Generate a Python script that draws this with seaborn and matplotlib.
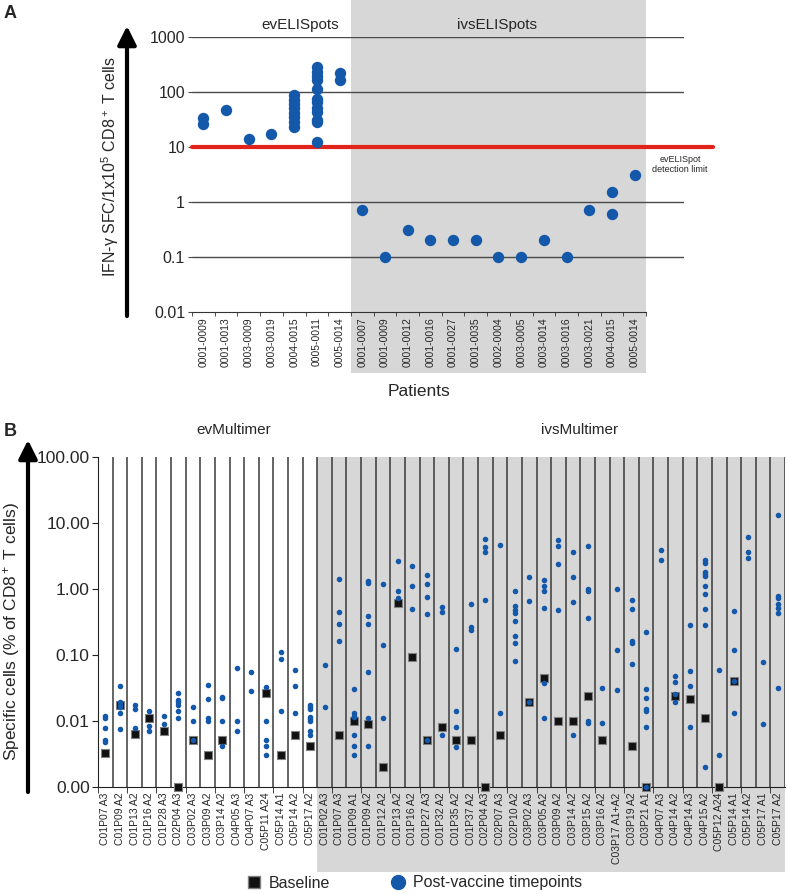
import numpy as np
import pandas as pd
import seaborn as sns
import matplotlib.pyplot as plt
from matplotlib.patches import Rectangle
from matplotlib.lines import Line2D
from matplotlib.ticker import NullLocator

sns.set_style('white')
plt.rcParams['font.family'] = ['Liberation Sans', 'DejaVu Sans']
plt.rcParams['mathtext.fontset'] = 'custom'
plt.rcParams['mathtext.rm'] = 'Liberation Sans'
plt.rcParams['mathtext.it'] = 'Liberation Sans:italic'

# ---------------- data: panel A (ELISpot) ----------------
ev_patients = ['0001-0009', '0001-0013', '0003-0009', '0003-0019', '0004-0015', '0005-0011', '0005-0014']
ev_values = [[26, 33], [46], [14], [17],
             [23, 28, 34, 41, 50, 60, 72, 87],
             [12, 28, 31, 42, 50, 65, 75, 110, 165, 190, 230, 280],
             [165, 215]]
ivs_patients = ['0001-0007', '0001-0009', '0001-0012', '0001-0016', '0001-0027', '0001-0035', '0002-0004',
                '0003-0005', '0003-0014', '0003-0016', '0003-0021', '0004-0015', '0005-0014']
ivs_values = [[0.7], [0.1], [0.3], [0.2], [0.2], [0.2], [0.1], [0.1], [0.2], [0.1], [0.7], [0.6, 1.5], [3.0]]

# ---------------- data: panel B (multimer) ----------------
ev_multi = ['C01P07 A3', 'C01P09 A2', 'C01P13 A2', 'C01P16 A2', 'C01P28 A3', 'C02P04 A3', 'C03P02 A3',
            'C03P09 A2', 'C03P14 A2', 'C04P05 A3', 'C04P07 A3', 'C05P11 A24', 'C05P14 A1', 'C05P14 A2', 'C05P17 A2']
ev_post = [[0.012, 0.011, 0.0078, 0.0051, 0.0047],
           [0.034, 0.019, 0.0175, 0.016, 0.013, 0.0074],
           [0.0173, 0.0152, 0.0078],
           [0.0141, 0.0082, 0.0070],
           [0.012, 0.0091],
           [0.0265, 0.0208, 0.019, 0.0173, 0.0141, 0.0112],
           [0.016, 0.0101, 0.0051],
           [0.035, 0.0213, 0.0112, 0.0100],
           [0.0233, 0.022, 0.010, 0.0041],
           [0.064, 0.010, 0.0070],
           [0.056, 0.0285],
           [0.0324, 0.010, 0.0051, 0.0041, 0.0030],
           [0.111, 0.086, 0.0141],
           [0.0586, 0.034, 0.0130],
           [0.0175, 0.016, 0.015, 0.0116, 0.0108, 0.0100, 0.0070, 0.0061]]
ev_base = [0.0033, 0.0175, 0.0064, 0.0112, 0.0070, 0.001, 0.0051, 0.0030, 0.0051, None, None,
           0.026, 0.0030, 0.0061, 0.0041]

ivs_multi = ['C01P02 A3', 'C01P07 A3', 'C01P09 A1', 'C01P09 A2', 'C01P12 A2', 'C01P13 A2', 'C01P16 A2',
             'C01P27 A3', 'C01P32 A2', 'C01P35 A2', 'C01P37 A2', 'C02P04 A3', 'C02P07 A3', 'C02P10 A2',
             'C03P02 A3', 'C03P05 A2', 'C03P09 A2', 'C03P14 A2', 'C03P15 A2', 'C03P16 A2', 'C03P17 A1+A2',
             'C03P19 A2', 'C03P21 A1', 'C04P07 A3', 'C04P14 A2', 'C04P14 A3', 'C04P15 A2', 'C05P12 A24',
             'C05P14 A1', 'C05P14 A2', 'C05P17 A1', 'C05P17 A2']
ivs_post = [[0.0708, 0.016],
            [1.43, 0.445, 0.296, 0.161],
            [0.030, 0.013, 0.012, 0.0113, 0.0061, 0.0041, 0.0030],
            [1.34, 1.22, 0.39, 0.30, 0.0546, 0.0112, 0.0041],
            [1.21, 0.142, 0.0112],
            [2.64, 0.94, 0.74],
            [2.24, 1.12, 0.506],
            [1.62, 1.21, 0.77, 0.42, 0.0051],
            [0.54, 0.455, 0.0061],
            [0.122, 0.0141, 0.0081, 0.0040],
            [0.60, 0.263, 0.24],
            [5.77, 4.36, 3.66, 0.69],
            [4.68, 0.013],
            [0.94, 0.554, 0.488, 0.44, 0.324, 0.192, 0.152, 0.082],
            [1.53, 0.67, 0.0193],
            [1.36, 1.13, 0.94, 0.517, 0.037, 0.0112],
            [5.5, 4.46, 2.43, 0.478],
            [3.66, 1.53, 0.64, 0.0061],
            [4.57, 0.99, 0.92, 0.365, 0.010, 0.0094],
            [0.0316, 0.0094],
            [1.0, 0.12, 0.0295],
            [0.69, 0.49, 0.165, 0.154, 0.074],
            [0.22, 0.030, 0.0223, 0.0153, 0.0142, 0.0081, 0.001],
            [3.97, 2.74],
            [0.0486, 0.0394, 0.0253, 0.0193],
            [0.283, 0.0573, 0.034, 0.0081],
            [2.74, 2.52, 1.84, 1.70, 1.58, 1.12, 0.85, 0.50, 0.283, 0.0020],
            [0.06, 0.003],
            [0.46, 0.12, 0.0403, 0.0132],
            [6.18, 3.66, 2.93],
            [0.079, 0.0091],
            [13.3, 0.79, 0.74, 0.59, 0.51, 0.44, 0.031]]
ivs_base = [None, 0.0061, 0.0100, 0.0091, 0.0020, 0.61, 0.094, 0.0051, 0.0081, 0.0051, 0.0051, 0.001,
            0.0061, None, 0.0193, 0.0448, 0.0100, 0.0100, 0.0242, 0.0051, None, 0.0041, 0.001, None,
            0.0242, 0.0213, 0.0112, 0.001, 0.0403, None, None, None]

# ---------------- layout helpers (pixels of the 787x894 picture) ----------------
W, H = 787, 894
def fx(px):
    return px / W
def fy(py):
    return 1 - py / H

blue = '#1458aa'
grey_bg = '#d7d7d7'
arrow_kw = dict(arrowstyle='-|>,head_length=0.7,head_width=0.35', lw=3, color='black',
                shrinkA=0, shrinkB=0, mutation_scale=16)

fig = plt.figure(figsize=(W / 100, H / 100), dpi=100)

# ================= panel A =================
a_left, a_right, a_grid_right, a_top, a_bot = 192, 646, 684, 36.7, 311.7
axA = fig.add_axes([fx(a_left), fy(a_bot), (a_grid_right - a_left) / W, (a_bot - a_top) / H])
axA.set_yscale('log')

elis_keys = ['ev ' + p for p in ev_patients] + ['ivs ' + p for p in ivs_patients]
elis_labels = ev_patients + ivs_patients
rows = []
for key, vals in zip(elis_keys, ev_values + ivs_values):
    for v in vals:
        rows.append((key, v))
elis_df = pd.DataFrame(rows, columns=['patient', 'sfc'])

sns.stripplot(data=elis_df, x='patient', y='sfc', order=elis_keys, jitter=False, size=8.2,
              color=blue, linewidth=0, ax=axA, zorder=4)

n_a = len(elis_keys)
n_ev_a = len(ev_patients)
cw = (a_right - a_left) / n_a
axA.set_xlim(-0.5, -0.5 + (a_grid_right - a_left) / cw)
axA.set_ylim(0.01, 1000)

for v in [0.1, 1, 100, 1000]:
    axA.axhline(v, color='#4a4a4a', lw=1, zorder=1)
axA.plot([-0.5, -0.5 + (713 - a_left) / cw], [10, 10], color='#e2231a', lw=3, clip_on=False, zorder=3)
axA.text(-0.5 + (680 - a_left) / cw, 4.8, 'evELISpot\ndetection limit', ha='center', va='center',
         fontsize=6.5, linespacing=1.1)

# grey ivs block, running down behind the tick labels
axA.add_patch(Rectangle((n_ev_a - 0.5, (a_bot - 373) / (a_bot - a_top)), n_a - n_ev_a,
                        (373 - 0) / (a_bot - a_top), transform=axA.get_xaxis_transform(),
                        facecolor=grey_bg, edgecolor='none', clip_on=False, zorder=0))

for s in ['top', 'right', 'left']:
    axA.spines[s].set_visible(False)
axA.spines['bottom'].set_bounds(-0.5, n_a - 0.5)
axA.spines['bottom'].set_color('#333333')
axA.set_xticks(range(n_a))
axA.set_xticklabels(elis_labels, rotation=90, fontsize=7.5)
axA.set_xticks(np.arange(-0.5, n_a, 1), minor=True)
axA.tick_params(axis='x', which='major', length=0, pad=4)
axA.tick_params(axis='x', which='minor', length=3, direction='out', color='#333333', bottom=True)
axA.set_yticks([0.01, 0.1, 1, 10, 100, 1000])
axA.set_yticklabels(['0.01', '0.1', '1', '10', '100', '1000'], fontsize=11.5)
axA.yaxis.set_minor_locator(NullLocator())
axA.tick_params(axis='y', which='major', length=3, color='#4a4a4a', left=True, pad=2)
axA.set_xlabel('')
axA.set_ylabel('')

fig.text(fx(300), fy(25), 'evELISpots', ha='center', va='center', fontsize=11)
fig.text(fx(497), fy(25), 'ivsELISpots', ha='center', va='center', fontsize=11)
axA.annotate('', xy=(fx(127), fy(26)), xytext=(fx(127), fy(316)), xycoords='figure fraction',
             textcoords='figure fraction', arrowprops=arrow_kw)
fig.text(fx(110), fy(167), 'IFN-γ SFC/1x10$^5$ CD8$^+$ T cells', rotation=90, ha='center', va='center',
         fontsize=11.5)
fig.text(fx(419), fy(392), 'Patients', ha='center', va='center', fontsize=12.5)
fig.text(fx(10), fy(13), 'A', ha='center', va='center', fontsize=13, fontweight='bold')

# ================= panel B =================
b_left, b_right, b_top, b_bot = 98, 785, 457.3, 786.7
axB = fig.add_axes([fx(b_left), fy(b_bot), (b_right - b_left) / W, (b_bot - b_top) / H])
axB.set_yscale('log')

multi_keys = ['ev ' + m for m in ev_multi] + ['ivs ' + m for m in ivs_multi]
multi_labels = ev_multi + ivs_multi
post_rows, base_rows = [], []
for key, vals, b in zip(multi_keys, ev_post + ivs_post, ev_base + ivs_base):
    for v in vals:
        post_rows.append((key, v))
    if b is not None:
        base_rows.append((key, b))
post_df = pd.DataFrame(post_rows, columns=['assay', 'pct'])
base_df = pd.DataFrame(base_rows, columns=['assay', 'pct'])

sns.stripplot(data=base_df, x='assay', y='pct', order=multi_keys, jitter=False, marker='s', size=5.5,
              color='#111111', edgecolor='#808080', linewidth=0.8, ax=axB, zorder=4, clip_on=False)
sns.stripplot(data=post_df, x='assay', y='pct', order=multi_keys, jitter=False, size=4,
              color=blue, linewidth=0, ax=axB, zorder=5, clip_on=False)

n_b = len(multi_keys)
n_ev_b = len(ev_multi)
axB.set_xlim(-0.5, n_b - 0.5)
axB.set_ylim(0.001, 100)
for bnd in np.arange(0.5, n_b, 1):
    axB.axvline(bnd, color='#3a3a3a', lw=1.1, zorder=1)
axB.add_patch(Rectangle((n_ev_b - 0.5, (b_bot - 872) / (b_bot - b_top)), n_b - n_ev_b,
                        (872 - b_top) / (b_bot - b_top), transform=axB.get_xaxis_transform(),
                        facecolor=grey_bg, edgecolor='none', clip_on=False, zorder=0))

for s in ['top', 'right']:
    axB.spines[s].set_visible(False)
for s in ['left', 'bottom']:
    axB.spines[s].set_color('#222222')
axB.set_xticks(range(n_b))
axB.set_xticklabels(multi_labels, rotation=90, fontsize=7.5)
axB.set_xticks(np.arange(-0.5, n_b, 2), minor=True)
axB.tick_params(axis='x', which='major', length=0, pad=4)
axB.tick_params(axis='x', which='minor', length=4, direction='out', color='#222222', bottom=True)
axB.set_yticks([0.001, 0.01, 0.1, 1, 10, 100])
axB.set_yticklabels(['0.00', '0.01', '0.10', '1.00', '10.00', '100.00'], fontsize=12.5)
axB.yaxis.set_minor_locator(NullLocator())
axB.tick_params(axis='y', which='major', length=4, color='#222222', left=True, pad=2)
axB.set_xlabel('')
axB.set_ylabel('')

fig.text(fx(234), fy(430), 'evMultimer', ha='center', va='center', fontsize=11)
fig.text(fx(580), fy(430), 'ivsMultimer', ha='center', va='center', fontsize=11)
fig.text(fx(10), fy(432), 'B', ha='center', va='center', fontsize=13, fontweight='bold')
axB.annotate('', xy=(fx(28), fy(440)), xytext=(fx(28), fy(792)), xycoords='figure fraction',
             textcoords='figure fraction', arrowprops=arrow_kw)
fig.text(fx(12), fy(632), 'Specific cells (% of CD8$^+$ T cells)', rotation=90, ha='center', va='center',
         fontsize=12.5)

handles = [Line2D([], [], marker='s', ls='none', color='#111111', markeredgecolor='#808080', markersize=8),
           Line2D([], [], marker='o', ls='none', color=blue, markersize=10)]
fig.legend(handles, ['Baseline', 'Post-vaccine timepoints'], loc='center', bbox_to_anchor=(fx(414), fy(883)),
           ncol=2, frameon=False, fontsize=11.5, columnspacing=3.8, handletextpad=0.4, handlelength=1,
           borderaxespad=0)

fig.savefig('out.png', dpi=100)
